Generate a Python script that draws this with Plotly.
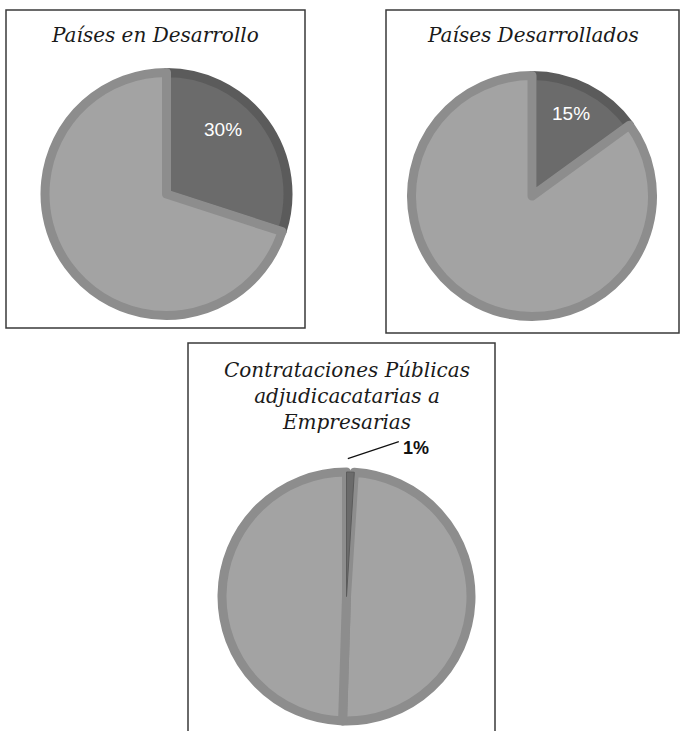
import math
import plotly.graph_objects as go

# ---------------- data ----------------
categorias = ["Empresas de mujeres", "Resto"]
valores_desarrollo = [30, 70]          # Países en Desarrollo
valores_desarrollados = [15, 85]       # Países Desarrollados
categorias_contrat = ["Empresarias", "Resto A", "Resto B"]
valores_contrat = [1, 49.5, 49.5]      # Contrataciones Públicas

titulos = [
    "Países en Desarrollo",
    "Países Desarrollados",
    "Contrataciones Públicas<br>adjudicacatarias a<br>Empresarias",
]

# ---------------- style / layout ----------------
W, H = 680, 731
DARK_FILL, DARK_LINE = "#6b6b6b", "#5b5b5b"
LIGHT_FILL, LIGHT_LINE = "#a3a3a3", "#8d8d8d"
STROKE = 9
SERIF = "DejaVu Serif, Georgia, serif"
SANS = "Liberation Sans, Arial, Helvetica, sans-serif"


def px(x):
    return x / W


def py(y):
    return 1 - y / H


def domain(cx, cy, R):
    rp = R - STROKE / 2
    return dict(x=[px(cx - rp), px(cx + rp)], y=[py(cy + rp), py(cy - rp)])


def pct(vals, i):
    return f"{round(100 * vals[i] / sum(vals))}%"


fig = go.Figure()

# chart 1
c1 = (166.5, 194, 126)
fig.add_trace(go.Pie(
    labels=categorias, values=valores_desarrollo, sort=False,
    direction="clockwise", rotation=0, domain=domain(*c1),
    marker=dict(colors=[DARK_FILL, LIGHT_FILL],
                line=dict(color=[DARK_LINE, LIGHT_LINE], width=STROKE)),
    textinfo="none", hoverinfo="skip", showlegend=False,
))

# chart 2
c2 = (532, 196, 125)
fig.add_trace(go.Pie(
    labels=categorias, values=valores_desarrollados, sort=False,
    direction="clockwise", rotation=0, domain=domain(*c2),
    marker=dict(colors=[DARK_FILL, LIGHT_FILL],
                line=dict(color=[DARK_LINE, LIGHT_LINE], width=STROKE)),
    textinfo="none", hoverinfo="skip", showlegend=False,
))

# chart 3 (draw the tiny dark slice last so it stays visible)
c3 = (346.5, 596.5, 129)
order = [1, 2, 0]
tot3 = sum(valores_contrat)
fig.add_trace(go.Pie(
    labels=[categorias_contrat[i] for i in order],
    values=[valores_contrat[i] for i in order], sort=False,
    direction="clockwise", rotation=360 * valores_contrat[0] / tot3,
    domain=domain(*c3),
    marker=dict(colors=[LIGHT_FILL, LIGHT_FILL, DARK_FILL],
                line=dict(color=[LIGHT_LINE, LIGHT_LINE, DARK_LINE],
                          width=[STROKE, STROKE, 1])),
    textinfo="none", hoverinfo="skip", showlegend=False,
))

# inside percentage labels
for vals, (lx, ly) in [(valores_desarrollo, (223, 130)), (valores_desarrollados, (571, 114))]:
    fig.add_annotation(
        x=px(lx), y=py(ly), xref="paper", yref="paper", showarrow=False,
        text=pct(vals, 0), xanchor="center", yanchor="middle",
        font=dict(family=SANS, size=19, color="white"),
    )

# leader label for the 1% slice
theta = math.radians(360 * (valores_contrat[0] / 2) / tot3)
tipx = c3[0] + (c3[2] + 9) * math.sin(theta) - 3
tipy = c3[1] - (c3[2] + 9) * math.cos(theta)
fig.add_shape(type="line", xref="paper", yref="paper",
              x0=px(tipx), y0=py(tipy), x1=px(tipx + 51), y1=py(tipy - 17),
              line=dict(color="#111", width=1.2))
fig.add_annotation(
    x=px(tipx + 53), y=py(tipy - 11), xref="paper", yref="paper",
    text=f"<b>{pct(valores_contrat, 0)}</b>", showarrow=False,
    xanchor="left", yanchor="middle",
    font=dict(family=SANS, size=18, color="#111"),
)

# boxes
boxes = [(6, 10, 305, 328), (386, 10, 679, 333), (188, 343, 495, 740)]
for x0, y0, x1, y1 in boxes:
    fig.add_shape(type="rect", xref="paper", yref="paper",
                  x0=px(x0), x1=px(x1), y0=py(y1), y1=py(y0),
                  line=dict(color="#3a3a3a", width=1.5), fillcolor="rgba(0,0,0,0)",
                  layer="below")

# titles
title_pos = [(155, 35), (533, 35), (346.5, 396)]
for t, (tx, ty) in zip(titulos, title_pos):
    fig.add_annotation(
        x=px(tx), y=py(ty), xref="paper", yref="paper", showarrow=False,
        text=f"<i>{t}</i>", xanchor="center", yanchor="middle",
        font=dict(family=SERIF, size=20, color="#1a1a1a"),
    )

fig.update_layout(
    width=W, height=H, margin=dict(l=0, r=0, t=0, b=0),
    paper_bgcolor="white", plot_bgcolor="white",
)

fig.write_html("out.html")
